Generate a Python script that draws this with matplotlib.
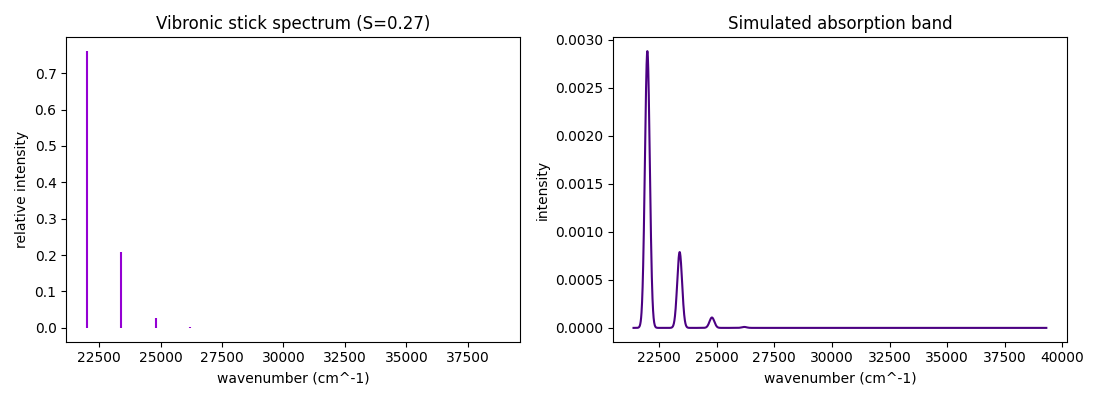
import matplotlib
matplotlib.use('Agg')
import matplotlib.pyplot as plt
import numpy as np

# Vibronic progression: 0-0 at 22000 cm^-1, spacing 1400 cm^-1, Huang-Rhys S~0.27
stick_pos = [22000, 23400, 24800, 26200, 27600, 29000, 30400,
             31800, 33200, 34600, 36000, 37400, 38800]
stick_int = [0.7604, 0.2083, 0.02854, 0.002607, 0.000179, 9.8e-6, 4.5e-7,
             1.8e-8, 6.1e-10, 1.9e-11, 5.1e-13, 1.3e-14, 2.9e-16]
fwhm = 248.0
grid_min, grid_max = 21400, 39300

sigma = fwhm / (2 * np.sqrt(2 * np.log(2)))
xs = np.linspace(grid_min, grid_max, 3000)
band = np.zeros_like(xs)
for p, a in zip(stick_pos, stick_int):
    band += a * np.exp(-0.5 * ((xs - p) / sigma) ** 2) / (sigma * np.sqrt(2 * np.pi))

fig, axes = plt.subplots(1, 2, figsize=(11, 4), dpi=100)

ax = axes[0]
ax.vlines(stick_pos, 0, stick_int, color='darkviolet', lw=1.5)
ax.set_title('Vibronic stick spectrum (S=0.27)')
ax.set_xlabel('wavenumber (cm^-1)')
ax.set_ylabel('relative intensity')

ax = axes[1]
ax.plot(xs, band, color='indigo', lw=1.5)
ax.set_title('Simulated absorption band')
ax.set_xlabel('wavenumber (cm^-1)')
ax.set_ylabel('intensity')

fig.tight_layout()
fig.savefig('out.png')
